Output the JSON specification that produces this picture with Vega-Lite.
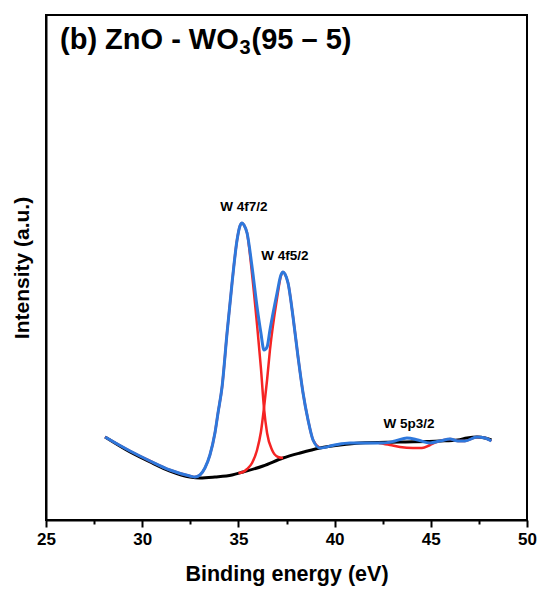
{
  "$schema": "https://vega.github.io/schema/vega-lite/v6.json",
  "width": 481,
  "height": 505,
  "autosize": {"type": "none"},
  "padding": {"left": 46, "top": 15, "right": 12, "bottom": 69},
  "background": "white",
  "config": {"view": {"stroke": "black", "strokeWidth": 2}, "font": "Liberation Sans"},
  "datasets": {
    "bg": [
      {"e": 28.07, "i": 83}, {"e": 29.37, "i": 68}, {"e": 30.41, "i": 58}, {"e": 31.44, "i": 49},
      {"e": 32.48, "i": 43}, {"e": 33.0, "i": 42}, {"e": 33.78, "i": 43}, {"e": 34.67, "i": 45},
      {"e": 35.24, "i": 48}, {"e": 36.28, "i": 54}, {"e": 37.32, "i": 62}, {"e": 38.2, "i": 67},
      {"e": 39.24, "i": 72}, {"e": 40.28, "i": 75}, {"e": 41.32, "i": 77}, {"e": 43.4, "i": 78},
      {"e": 45.48, "i": 79}, {"e": 46.4, "i": 80}, {"e": 46.88, "i": 82}, {"e": 47.4, "i": 83},
      {"e": 47.82, "i": 82}, {"e": 48.15, "i": 80}
    ],
    "red1": [
      {"e": 28.07, "i": 83}, {"e": 29.37, "i": 69}, {"e": 30.41, "i": 59}, {"e": 31.44, "i": 50},
      {"e": 32.48, "i": 44}, {"e": 32.74, "i": 43}, {"e": 33.0, "i": 45}, {"e": 33.26, "i": 52},
      {"e": 33.52, "i": 65}, {"e": 33.78, "i": 87}, {"e": 33.94, "i": 107}, {"e": 34.15, "i": 133},
      {"e": 34.41, "i": 187}, {"e": 34.67, "i": 237}, {"e": 34.93, "i": 280}, {"e": 35.08, "i": 294},
      {"e": 35.19, "i": 297}, {"e": 35.29, "i": 295}, {"e": 35.45, "i": 287}, {"e": 35.71, "i": 246},
      {"e": 35.97, "i": 195}, {"e": 36.17, "i": 152}, {"e": 36.33, "i": 112}, {"e": 36.49, "i": 87},
      {"e": 36.75, "i": 70}, {"e": 37.06, "i": 63}, {"e": 37.32, "i": 62}
    ],
    "red2": [
      {"e": 35.0, "i": 47}, {"e": 35.24, "i": 48}, {"e": 35.45, "i": 51}, {"e": 35.71, "i": 57},
      {"e": 35.97, "i": 70}, {"e": 36.17, "i": 88}, {"e": 36.33, "i": 112}, {"e": 36.49, "i": 140},
      {"e": 36.64, "i": 170}, {"e": 37.01, "i": 222}, {"e": 37.21, "i": 244}, {"e": 37.32, "i": 248},
      {"e": 37.42, "i": 246}, {"e": 37.58, "i": 237}, {"e": 37.84, "i": 203}, {"e": 38.1, "i": 163},
      {"e": 38.36, "i": 127}, {"e": 38.62, "i": 100}, {"e": 38.88, "i": 80}, {"e": 39.24, "i": 72}
    ],
    "red3": [
      {"e": 42.3, "i": 77}, {"e": 42.88, "i": 75}, {"e": 43.4, "i": 73}, {"e": 44.07, "i": 72},
      {"e": 44.54, "i": 72}, {"e": 44.96, "i": 75}, {"e": 45.3, "i": 78}, {"e": 45.48, "i": 79},
      {"e": 46.0, "i": 81}, {"e": 46.41, "i": 79}, {"e": 46.78, "i": 79}, {"e": 47.4, "i": 83},
      {"e": 47.82, "i": 82}, {"e": 48.15, "i": 79}
    ],
    "env": [
      {"e": 28.07, "i": 83}, {"e": 29.37, "i": 69}, {"e": 30.41, "i": 59}, {"e": 31.44, "i": 50},
      {"e": 32.48, "i": 44}, {"e": 32.74, "i": 43}, {"e": 33.0, "i": 45}, {"e": 33.26, "i": 52},
      {"e": 33.52, "i": 65}, {"e": 33.78, "i": 87}, {"e": 33.94, "i": 107}, {"e": 34.15, "i": 133},
      {"e": 34.41, "i": 187}, {"e": 34.67, "i": 237}, {"e": 34.93, "i": 280}, {"e": 35.08, "i": 294},
      {"e": 35.19, "i": 297}, {"e": 35.29, "i": 295}, {"e": 35.45, "i": 287}, {"e": 35.71, "i": 253},
      {"e": 35.97, "i": 213}, {"e": 36.17, "i": 187}, {"e": 36.33, "i": 170}, {"e": 36.49, "i": 173},
      {"e": 36.64, "i": 190}, {"e": 37.01, "i": 227}, {"e": 37.21, "i": 245}, {"e": 37.32, "i": 248},
      {"e": 37.42, "i": 246}, {"e": 37.58, "i": 237}, {"e": 37.84, "i": 203}, {"e": 38.1, "i": 163},
      {"e": 38.36, "i": 127}, {"e": 38.62, "i": 100}, {"e": 38.88, "i": 80}, {"e": 39.24, "i": 72},
      {"e": 40.0, "i": 75}, {"e": 40.8, "i": 77}, {"e": 42.52, "i": 77}, {"e": 43.14, "i": 79},
      {"e": 43.76, "i": 82}, {"e": 44.33, "i": 80}, {"e": 44.96, "i": 77}, {"e": 45.48, "i": 79},
      {"e": 46.0, "i": 81}, {"e": 46.41, "i": 79}, {"e": 46.78, "i": 79}, {"e": 47.4, "i": 83},
      {"e": 47.82, "i": 82}, {"e": 48.15, "i": 79}
    ],
    "peaks": [
      {"e": 35.29, "i": 313, "t": "W 4f7/2"},
      {"e": 37.42, "i": 264, "t": "W 4f5/2"},
      {"e": 43.87, "i": 96, "t": "W 5p3/2"}
    ],
    "heading": [
      {"e": 25.728, "i": 471, "t": "(b) ZnO - WO"},
      {"e": 35.681, "i": 471, "t": "(95 – 5)"}
    ],
    "sub": [
      {"e": 35.057, "i": 466.5, "t": "3"}
    ]
  },
  "encoding": {
    "x": {
      "field": "e", "type": "quantitative",
      "scale": {"domain": [25, 50], "nice": false, "zero": false},
      "axis": {
        "values": [25, 27.5, 30, 32.5, 35, 37.5, 40, 42.5, 45, 47.5, 50],
        "labelExpr": "datum.value % 5 === 0 ? datum.label : ''",
        "labelOverlap": false,
        "labelFlush": false,
        "tickSize": {"condition": {"test": "datum.value % 5 === 0", "value": 7}, "value": 4},
        "tickWidth": 2, "tickColor": "black",
        "domainColor": "black", "domainWidth": 2,
        "labelFont": "Liberation Sans", "labelFontWeight": "bold", "labelFontSize": 17, "labelColor": "black",
        "labelPadding": 4,
        "title": "Binding energy (eV)",
        "titleFont": "Liberation Sans", "titleFontWeight": "bold", "titleFontSize": 21.5, "titleColor": "black",
        "titlePadding": 16,
        "grid": false
      }
    },
    "y": {
      "field": "i", "type": "quantitative",
      "scale": {"domain": [0, 505], "nice": false, "zero": false},
      "axis": {
        "labels": false, "ticks": false,
        "domainColor": "black", "domainWidth": 2,
        "title": "Intensity (a.u.)",
        "titleFont": "Liberation Sans", "titleFontWeight": "bold", "titleFontSize": 21, "titleColor": "black",
        "titlePadding": 14,
        "grid": false
      }
    }
  },
  "layer": [
    {"data": {"name": "bg"}, "mark": {"type": "line", "color": "black", "strokeWidth": 3, "interpolate": "monotone"}},
    {"data": {"name": "red1"}, "mark": {"type": "line", "color": "#f52424", "strokeWidth": 2.5, "interpolate": "monotone"}},
    {"data": {"name": "red2"}, "mark": {"type": "line", "color": "#f52424", "strokeWidth": 2.5, "interpolate": "monotone"}},
    {"data": {"name": "red3"}, "mark": {"type": "line", "color": "#f52424", "strokeWidth": 2.5, "interpolate": "monotone"}},
    {"data": {"name": "env"}, "mark": {"type": "line", "color": "#2e78dc", "strokeWidth": 3, "interpolate": "monotone"}},
    {"data": {"name": "peaks"}, "mark": {"type": "text", "font": "Liberation Sans", "fontWeight": "bold", "fontSize": 13.5, "color": "black", "align": "center", "baseline": "middle"}, "encoding": {"text": {"field": "t"}}},
    {"data": {"name": "heading"}, "mark": {"type": "text", "font": "Liberation Sans", "fontWeight": "bold", "fontSize": 29, "color": "black", "align": "left", "baseline": "alphabetic"}, "encoding": {"text": {"field": "t"}}},
    {"data": {"name": "sub"}, "mark": {"type": "text", "font": "Liberation Sans", "fontWeight": "bold", "fontSize": 20, "color": "black", "align": "left", "baseline": "alphabetic"}, "encoding": {"text": {"field": "t"}}}
  ]
}
